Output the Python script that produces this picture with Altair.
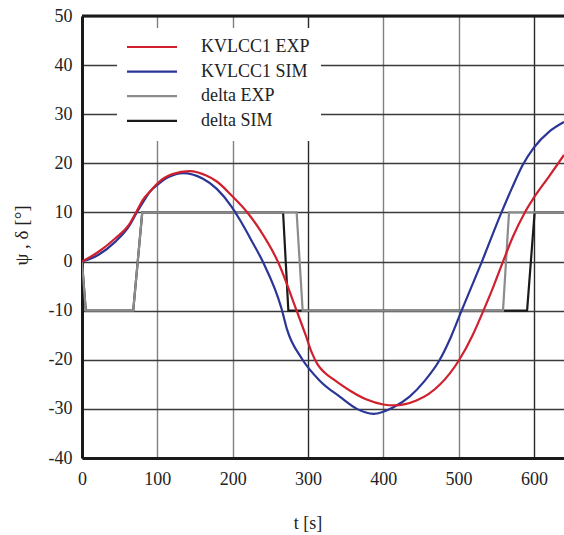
import altair as alt
import pandas as pd

# ---------------- data ----------------
series_names = ["KVLCC1 EXP", "KVLCC1 SIM", "delta EXP", "delta SIM"]
series_colors = ["#d0202e", "#2a3596", "#8c8c8c", "#1a1a1a"]

exp_t = [0, 22, 44, 62, 71, 82, 90, 100, 120, 143, 165, 179, 199, 219, 236, 260,
         285, 297, 305, 313, 322, 334, 356, 378, 400, 415, 444, 460, 475, 501, 518, 533,
         546, 559, 572, 588, 600, 620, 640]
exp_v = [0, 2.0, 4.7, 7.4, 9.8, 12.8, 14.2, 15.9, 17.8, 18.4, 17.5, 16.3, 13.4, 10.1, 6.5, 0,
         -10, -15, -18.5, -21.0, -22.6, -24.0, -26.3, -28.1, -29.1, -29.3, -28.3, -27.0, -25.1, -20, -15.2, -10,
         -5.2, 0, 5.0, 10, 13.0, 17.3, 21.7]

sim_t = [0, 22, 44, 62, 72, 84, 90, 100, 115, 134, 160, 179, 199, 210, 225, 240,
         265, 272, 292, 316, 343, 365, 387, 413, 435, 455, 475, 490, 504, 531, 557,
         571, 585, 600, 620, 640]
sim_v = [0, 1.4, 4.0, 7.1, 9.8, 12.8, 14.2, 15.6, 17.2, 18.0, 16.9, 14.8, 11.1, 8.4, 4.3, 0,
         -9.6, -13.7, -19.8, -24.3, -27.6, -30.0, -31.0, -29.7, -27.5, -24.3, -20, -15.3, -10, 0, 10,
         15.0, 19.6, 23.2, 26.4, 28.4]

dexp_t = [0, 5, 68, 80, 285, 293, 559, 567, 640]
dexp_v = [0, -10, -10, 10, 10, -10, -10, 10, 10]

dsim_t = [0, 5, 68, 80, 267, 274, 591, 601, 640]
dsim_v = [0, -10, -10, 10, 10, -10, -10, 10, 10]

x_ticks = [0, 100, 200, 300, 400, 500, 600]
y_ticks = [-40, -30, -20, -10, 0, 10, 20, 30, 40, 50]
frame_top = [50]

FONT = "Liberation Serif"
TXT = "#222222"


def frame(name, t, v):
    return pd.DataFrame({"t": t, "v": v, "series": name})


color_scale = alt.Scale(domain=series_names, range=series_colors)
xs = alt.Scale(domain=[0, 640], nice=False, zero=False)
ys = alt.Scale(domain=[-40, 50], nice=False, zero=False)

x_axis = alt.Axis(
    values=x_ticks, title="t [s]", grid=True,
    gridColor={"condition": {"test": "datum.value == 300 || datum.value == 600",
                             "value": "#2a2a2a"}, "value": "#808080"},
    gridWidth=1.4, ticks=False, domainColor="#1a1a1a", domainWidth=3,
    labelFont=FONT, labelFontSize=18, labelColor=TXT, labelPadding=12,
    labelFlush=False,
    titleFont=FONT, titleFontSize=18, titleColor=TXT, titleFontWeight="normal",
    titleX=225.5, titleY=70, titleAlign="center", titleBaseline="alphabetic",
)
y_axis = alt.Axis(
    values=y_ticks, title="ψ , δ [°]", grid=True, gridColor="#3a3a3a", gridWidth=1.3,
    ticks=False, domainColor="#1a1a1a", domainWidth=3,
    labelFont=FONT, labelFontSize=18, labelColor=TXT, labelPadding=10,
    labelExpr="'' + datum.value", labelFlush=False,
    titleFont=FONT, titleFontSize=19, titleColor=TXT, titleFontWeight="normal",
    titleAngle=270, titleX=-55, titleY=219, titleAlign="center", titleBaseline="alphabetic",
)

legend = alt.Legend(
    title=None, orient="none", legendX=35, legendY=12,
    symbolType="M-5,0H5", symbolSize=100, symbolStrokeWidth=2.2, symbolOffset=16,
    labelFont=FONT, labelFontSize=18, labelColor=TXT, labelOffset=40,
    rowPadding=6.6, fillColor="white", padding=10, strokeColor="white",
)


def layer(df, interp):
    return alt.Chart(df).mark_line(interpolate=interp, strokeWidth=2.2, clip=True).encode(
        x=alt.X("t:Q", scale=xs, axis=x_axis),
        y=alt.Y("v:Q", scale=ys, axis=y_axis),
        color=alt.Color("series:N", scale=color_scale, legend=legend),
    )


top_rule = alt.Chart(pd.DataFrame({"v": frame_top})).mark_rule(
    color="#1a1a1a", strokeWidth=3
).encode(y=alt.Y("v:Q", scale=ys, axis=y_axis))

chart = alt.layer(
    layer(frame("delta SIM", dsim_t, dsim_v), "linear"),
    layer(frame("delta EXP", dexp_t, dexp_v), "linear"),
    layer(frame("KVLCC1 SIM", sim_t, sim_v), "monotone"),
    layer(frame("KVLCC1 EXP", exp_t, exp_v), "monotone"),
    top_rule,
).properties(
    width=482, height=442, autosize="none",
    padding={"left": 82, "top": 16, "right": 0, "bottom": 77},
    background="white",
).configure_view(stroke=None)

chart.save("out.html", embed_options={"renderer": "svg", "actions": False})
